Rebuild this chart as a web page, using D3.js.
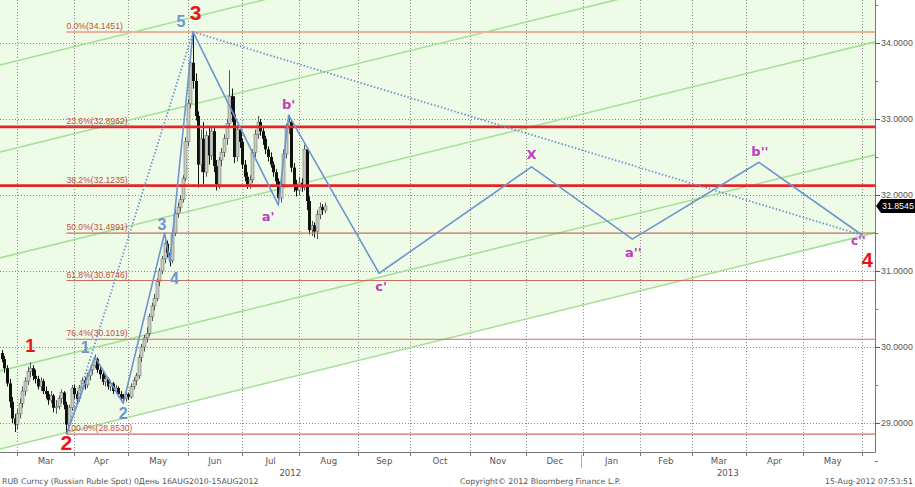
<!DOCTYPE html>
<html><head><meta charset="utf-8">
<script src="https://cdn.jsdelivr.net/npm/d3@7"></script>
<style>body{margin:0;background:#fff}svg{display:block}</style>
</head><body><svg id="c" width="915" height="487"></svg>
<script>
// ---------- DATA ----------
const candleStart = "2012-02-22";   // first trading day shown; one candle per weekday
const ohlc = [
[29.92,29.96,29.80,29.84],[29.84,29.88,29.66,29.72],[29.72,29.76,29.48,29.52],[29.52,29.58,29.20,29.28],
[29.28,29.34,29.00,29.06],[29.06,29.12,28.88,28.98],[28.98,29.18,28.92,29.12],[29.12,29.32,29.06,29.26],
[29.26,29.48,29.20,29.42],[29.42,29.60,29.36,29.55],[29.55,29.74,29.50,29.68],[29.68,29.80,29.60,29.72],
[29.72,29.76,29.56,29.62],[29.62,29.70,29.52,29.58],[29.58,29.62,29.44,29.48],[29.48,29.60,29.42,29.55],
[29.55,29.58,29.38,29.42],[29.42,29.48,29.32,29.38],[29.38,29.42,29.24,29.30],[29.30,29.42,29.26,29.36],
[29.36,29.38,29.14,29.20],[29.20,29.30,29.12,29.22],[29.22,29.36,29.18,29.32],[29.32,29.44,29.26,29.40],
[29.40,29.42,29.18,29.24],[29.24,29.28,28.86,28.98],[28.98,29.24,28.94,29.20],[29.20,29.50,29.16,29.46],
[29.46,29.50,29.32,29.38],[29.38,29.42,29.26,29.32],[29.32,29.50,29.28,29.46],[29.46,29.60,29.42,29.56],
[29.56,29.60,29.44,29.50],[29.50,29.66,29.46,29.62],[29.62,29.74,29.56,29.70],[29.70,29.80,29.64,29.76],
[29.76,29.90,29.72,29.84],[29.84,29.86,29.66,29.70],[29.70,29.74,29.58,29.64],[29.64,29.68,29.50,29.54],
[29.54,29.62,29.48,29.58],[29.58,29.60,29.44,29.48],[29.48,29.56,29.42,29.52],[29.52,29.54,29.38,29.42],
[29.42,29.50,29.38,29.46],[29.46,29.48,29.34,29.38],[29.38,29.42,29.30,29.34],[29.34,29.38,29.26,29.32],
[29.32,29.42,29.28,29.38],[29.38,29.40,29.30,29.34],[29.34,29.52,29.32,29.48],[29.48,29.60,29.44,29.56],
[29.56,29.66,29.50,29.62],[29.62,29.90,29.58,29.86],[29.86,30.04,29.80,30.00],[30.00,30.16,29.94,30.12],
[30.12,30.26,30.06,30.18],[30.18,30.44,30.14,30.40],[30.40,30.58,30.34,30.54],[30.54,30.70,30.48,30.64],
[30.64,30.90,30.60,30.86],[30.86,31.04,30.80,31.00],[31.00,31.20,30.96,31.16],[31.16,31.44,31.10,31.36],
[31.36,31.40,31.18,31.24],[31.24,31.28,31.06,31.14],[31.14,31.54,31.10,31.50],[31.50,31.80,31.46,31.76],
[31.76,31.90,31.70,31.84],[31.84,32.00,31.78,31.94],[31.94,32.26,31.90,32.22],[32.22,32.76,32.18,32.70],
[32.70,33.26,32.64,33.20],[33.20,33.80,33.14,33.74],[33.74,34.145,33.40,33.50],[33.50,33.60,32.98,33.04],
[33.04,33.10,32.10,32.40],[32.40,32.86,32.30,32.74],[32.74,32.96,32.14,32.30],[32.30,32.84,32.24,32.78],
[32.78,32.88,32.40,32.52],[32.52,32.90,32.46,32.84],[32.84,32.88,32.30,32.38],[32.38,32.46,32.06,32.14],
[32.14,32.50,32.08,32.46],[32.46,32.62,32.38,32.56],[32.56,32.80,32.50,32.74],[32.74,33.00,32.66,32.94],
[32.94,33.64,32.90,33.30],[33.30,33.40,32.96,33.06],[33.06,33.30,32.42,32.50],[32.50,32.92,32.44,32.86],
[32.86,32.90,32.62,32.70],[32.70,32.74,32.34,32.40],[32.40,32.46,32.18,32.24],[32.24,32.30,32.08,32.14],
[32.14,32.26,32.08,32.20],[32.20,32.60,32.16,32.56],[32.56,32.86,32.50,32.80],[32.80,33.04,32.74,32.96],
[32.96,33.00,32.78,32.84],[32.84,32.88,32.66,32.74],[32.74,32.78,32.54,32.60],[32.60,32.64,32.44,32.50],
[32.50,32.56,32.36,32.40],[32.40,32.44,32.24,32.30],[32.30,32.34,32.12,32.18],[32.18,32.22,31.86,31.96],
[31.96,32.20,31.90,32.14],[32.14,32.60,32.10,32.54],[32.54,32.94,32.48,32.88],[32.88,33.05,32.80,32.96],
[32.96,33.00,32.30,32.36],[32.36,32.42,32.04,32.12],[32.12,32.20,31.98,32.06],[32.06,32.24,32.00,32.16],
[32.16,32.22,32.04,32.10],[32.10,32.66,32.06,32.60],[32.60,32.62,31.80,31.92],[31.92,31.98,31.48,31.54],
[31.54,31.66,31.46,31.60],[31.60,31.64,31.44,31.52],[31.52,31.80,31.42,31.74],[31.74,31.90,31.68,31.84],
[31.84,31.88,31.74,31.80],[31.80,31.90,31.76,31.8545]
];
const lastPrice = 31.8545;

const fibNames  = ["0.0%","23.6%","38.2%","50.0%","61.8%","76.4%","100.0%"];
const fibPrices = [34.1451,32.8962,32.1235,31.4991,30.8746,30.1019,28.8530];
const fibStrong = [false,true,true,false,false,false,false];
const fibStart  = "2012-03-28";

const channelDates  = ["2012-03-01","2013-06-03"];
const channelPrices = [[33.767,36.513],[32.622,35.368],[31.228,33.974],[29.741,32.487],[28.714,31.461]];

const waveDates  = ["2012-03-28","2012-04-12","2012-04-27","2012-05-21","2012-05-23","2012-06-05",
                    "2012-07-20","2012-07-26","2012-09-13","2012-12-05","2013-01-29","2013-04-08","2013-06-03"];
const wavePrices = [28.853,29.87,29.26,31.50,31.12,34.1451,31.87,33.05,30.97,32.37,31.42,32.43,31.47];
const dottedDates  = [["2012-03-28","2012-06-05"],["2012-06-05","2013-06-03"]];
const dottedPrices = [[28.853,34.1451],[34.1451,31.47]];

const redLabels   = ["1","2","3","4"];
const redDates    = ["2012-03-08","2012-03-28","2012-06-06","2013-06-03"];
const redPrices   = [29.80,28.853,34.1451,31.47];
const blueLabels  = ["1","2","3","4","5"];
const blueDates   = ["2012-04-07","2012-04-27","2012-05-18","2012-05-24","2012-06-01"];
const bluePrices  = [29.87,29.26,31.50,31.12,34.1451];
const waveLabels  = ["a'","b'","c'","X","a''","b''","c''"];
const waveLblDates  = ["2012-07-18","2012-07-26","2012-09-13","2012-12-05","2013-01-29","2013-04-08","2013-06-01"];
const waveLblPrices = [31.87,33.05,30.97,32.37,31.42,32.43,31.47];

const monthTicks  = ["2012-03-01","2012-04-02","2012-05-01","2012-06-01","2012-07-02","2012-08-01","2012-09-03",
  "2012-10-01","2012-11-01","2012-12-03","2013-01-02","2013-02-01","2013-03-01","2013-04-01","2013-05-01","2013-06-03"];
const monthLabels = ["Mar","Apr","May","Jun","Jul","Aug","Sep","Oct","Nov","Dec","Jan","Feb","Mar","Apr","May"];
const yearLabels  = ["2012","2013"];
const yearBounds  = [["2012-02-20","2013-01-01"],["2013-01-01","2013-06-10"]];
const yTicks = [29,30,31,32,33,34];
const yMinor = [28.5,29.5,30.5,31.5,32.5,33.5,34.5];

const footLeft  = "RUB Curncy (Russian Ruble Spot) 0День 16AUG2010-15AUG2012";
const footMid   = "Copyright© 2012 Bloomberg Finance L.P.";
const footRight = "15-Aug-2012 07:53:51";

// ---------- HELPERS ----------
const base = Date.UTC(2012,1,27); // a Monday
function bd(s){ // weekday index, 0 = 1 Mar 2012
  const [y,m,d]=s.split("-").map(Number);
  const days=Math.round((Date.UTC(y,m-1,d)-base)/864e5);
  const w=Math.floor(days/7), r=days-7*w;
  return w*5+Math.min(r,5)-3;
}
const W=875, H=452;
const x = d3.scaleLinear().domain([-6.7,331.9]).range([0,W]);
const y = d3.scaleLinear().domain([28.618,34.5658]).range([H,0]);

const svg = d3.select("#c");
const FONT = "'DejaVu Sans', Verdana, sans-serif";
const AFONT = "'Liberation Sans', Arial, sans-serif";
svg.append("defs").append("clipPath").attr("id","clip").append("rect").attr("width",W).attr("height",H);
const plot = svg.append("g").attr("clip-path","url(#clip)");

// green channel fill above lowest channel line
const lo = channelPrices[channelPrices.length-1];
const b0 = bd(channelDates[0]), b1 = bd(channelDates[1]);
const chanY = (p,b)=> p[0]+(p[1]-p[0])*(b-b0)/(b1-b0);
const bL = x.invert(0), bR = x.invert(W);
plot.append("path").attr("fill","#eefbe7")
  .attr("d", d3.line()([[0,0],[W,0],[W,y(chanY(lo,bR))],[0,y(chanY(lo,bL))]]));

// grid
const grid = plot.append("g").attr("stroke","#8a8a8a").attr("stroke-width",1).attr("stroke-dasharray","1,2");
grid.selectAll("line.v").data(monthTicks).join("line")
  .attr("x1",d=>Math.round(x(bd(d)))+0.5).attr("x2",d=>Math.round(x(bd(d)))+0.5).attr("y1",0).attr("y2",H);
grid.selectAll("line.h").data(yTicks).join("line").attr("class","h")
  .attr("x1",0).attr("x2",W).attr("y1",d=>Math.round(y(d))+0.5).attr("y2",d=>Math.round(y(d))+0.5);

// channel lines
plot.append("g").selectAll("line").data(channelPrices).join("line")
  .attr("x1",0).attr("x2",W).attr("y1",d=>y(chanY(d,bL))).attr("y2",d=>y(chanY(d,bR)))
  .attr("stroke","#a2e094").attr("stroke-width",1.6);

// candles
const c0 = bd(candleStart);
const cg = plot.append("g");
ohlc.forEach((d,i)=>{
  const cx = Math.round(x(c0+i))+0.5;
  const up = d[3]>=d[0];
  cg.append("line").attr("x1",cx).attr("x2",cx).attr("y1",y(d[1])).attr("y2",y(d[2]))
    .attr("stroke", up?"#555":"#111").attr("stroke-width",1);
  const top=y(Math.max(d[0],d[3])), bot=y(Math.min(d[0],d[3]));
  cg.append("rect").attr("x",cx-1.5).attr("width",3).attr("y",top).attr("height",Math.max(1,bot-top))
    .attr("fill", up?"#c9cdc2":"#111").attr("stroke", up?"#666":"none").attr("stroke-width",0.5);
});

// fib lines
const fx = x(bd(fibStart));
fibPrices.forEach((p,i)=>{
  const yy = y(p);
  plot.append("line").attr("x1",fibStrong[i]?0:fx).attr("x2",W).attr("y1",yy).attr("y2",yy)
    .attr("stroke", i===0?"#e8b49a":(fibStrong[i]?"#e3262a":"#c8705e"))
    .attr("stroke-width", fibStrong[i]?2.6:(i===0?2:1.2));
  if(fibStrong[i]) plot.append("line").attr("x1",fx).attr("x2",fx+64).attr("y1",yy-1).attr("y2",yy-1)
    .attr("stroke","#c8705e").attr("stroke-width",1);
  plot.append("text").attr("x",fx).attr("y",yy-3).text(fibNames[i]+"("+p.toFixed(4)+")")
    .attr("font-family",AFONT).attr("font-size",8.6).attr("fill","#c4503e");
});

// wave lines
const wl = d3.line().x(d=>x(bd(d[0]))).y(d=>y(d[1]));
plot.append("path").attr("d", wl(waveDates.map((d,i)=>[d,wavePrices[i]])))
  .attr("fill","none").attr("stroke","#6f95cc").attr("stroke-width",1.6).attr("stroke-linejoin","round");
dottedDates.forEach((ds,k)=>{
  plot.append("path").attr("d", wl(ds.map((d,i)=>[d,dottedPrices[k][i]])))
    .attr("fill","none").attr("stroke","#6f95cc").attr("stroke-width",1.8).attr("stroke-dasharray","1.5,2");
});

// labels
const lblOff = {red:[[0,-10],[0,16],[0,-12],[5,32]], blue:[[-2,-4],[0,16],[0,-3],[2,22],[-7,-5]],
                wave:[[-5,16],[0,-6],[2,18],[0,-8],[1,18],[1,-6],[-4,10]]};
redLabels.forEach((t,i)=>{
  svg.append("text").attr("x",x(bd(redDates[i]))+lblOff.red[i][0]).attr("y",y(redPrices[i])+lblOff.red[i][1])
    .attr("text-anchor","middle").attr("font-family",AFONT)
    .attr("font-weight","bold").attr("font-size", i===0?18:(i===3?20:21)).attr("fill","#e8141a").text(t);
});
blueLabels.forEach((t,i)=>{
  svg.append("text").attr("x",x(bd(blueDates[i]))+lblOff.blue[i][0]).attr("y",y(bluePrices[i])+lblOff.blue[i][1])
    .attr("text-anchor","middle").attr("font-family",AFONT)
    .attr("font-weight","bold").attr("font-size",16).attr("fill","#6f95cc").text(t);
});
waveLabels.forEach((t,i)=>{
  svg.append("text").attr("x",x(bd(waveLblDates[i]))+lblOff.wave[i][0]).attr("y",y(waveLblPrices[i])+lblOff.wave[i][1])
    .attr("text-anchor","middle").attr("font-family",FONT)
    .attr("font-weight","bold").attr("font-size", i===6?12:13).attr("fill","#c03cc0").text(t);
});

// axes frame
svg.append("line").attr("x1",W+0.5).attr("x2",W+0.5).attr("y1",0).attr("y2",H+0.5).attr("stroke","#777");
svg.append("line").attr("x1",0).attr("x2",W+0.5).attr("y1",H+0.5).attr("y2",H+0.5).attr("stroke","#777");

// right axis
const yAxis = d3.axisRight(y).tickValues(yTicks).tickFormat(d3.format(".4f")).tickSize(5).tickPadding(1);
const ya = svg.append("g").attr("transform",`translate(${W},0)`).call(yAxis);
ya.select(".domain").remove();
ya.selectAll("line").attr("stroke","#555");
ya.selectAll("text").attr("font-family",AFONT).attr("font-size",8.8).attr("fill","#555");
svg.append("g").selectAll("line").data(yMinor).join("line")
  .attr("x1",W).attr("x2",W+3).attr("y1",d=>Math.round(y(d))+0.5).attr("y2",d=>Math.round(y(d))+0.5).attr("stroke","#777");

// last price tag
const ly = y(lastPrice);
svg.append("path").attr("d",`M${W+1},${ly} L${W+6},${ly-7} L915,${ly-7} L915,${ly+7} L${W+6},${ly+7} Z`).attr("fill","#000");
svg.append("text").attr("x",W+7).attr("y",ly+3.3).text(lastPrice.toFixed(4))
  .attr("font-family",AFONT).attr("font-size",8.8).attr("fill","#fff");

// bottom axis
const xa = svg.append("g");
xa.selectAll("line").data(monthTicks).join("line")
  .attr("x1",d=>Math.round(x(bd(d)))+0.5).attr("x2",d=>Math.round(x(bd(d)))+0.5).attr("y1",H).attr("y2",H+4).attr("stroke","#777");
xa.selectAll("text").data(monthLabels).join("text")
  .attr("x",(d,i)=>(x(bd(monthTicks[i]))+x(bd(monthTicks[i+1])))/2).attr("y",H+12)
  .attr("text-anchor","middle").attr("font-family",FONT).attr("font-size",8.6).attr("fill","#555").text(d=>d);
yearLabels.forEach((t,i)=>{
  const a=Math.max(0,x(bd(yearBounds[i][0]))), b=Math.min(W,x(bd(yearBounds[i][1])));
  svg.append("text").attr("x",(a+b)/2).attr("y",H+24).attr("text-anchor","middle")
    .attr("font-family",FONT).attr("font-size",8.6).attr("fill","#555").text(t);
});
const ysep = Math.round(x(bd(yearBounds[1][0])))+0.5;
svg.append("line").attr("x1",ysep).attr("x2",ysep).attr("y1",H+3).attr("y2",H+16).attr("stroke","#aaa");

// footer
svg.append("text").attr("x",2).attr("y",484).text(footLeft).attr("font-family",FONT).attr("font-size",7.8).attr("fill","#555");
svg.append("text").attr("x",460).attr("y",484).text(footMid).attr("font-family",FONT).attr("font-size",7.8).attr("fill","#555");
svg.append("text").attr("x",913).attr("y",484).attr("text-anchor","end").text(footRight).attr("font-family",FONT).attr("font-size",7.8).attr("fill","#555");
</script></body></html>
